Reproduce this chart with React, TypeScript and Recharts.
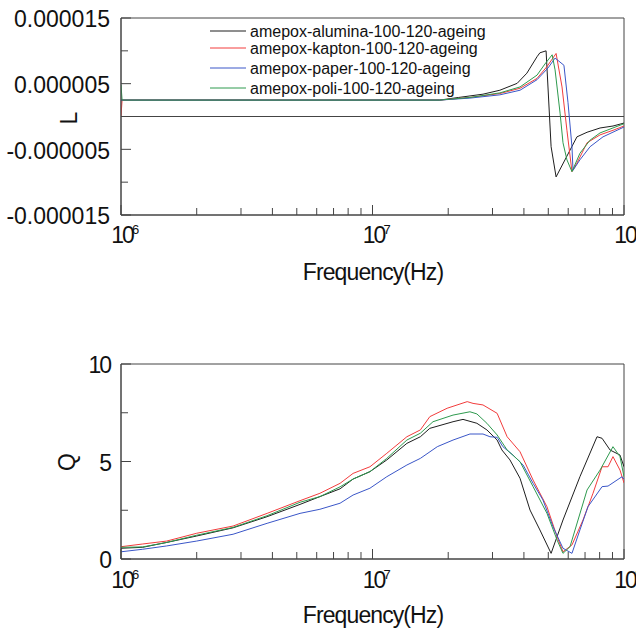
import React from 'react';
import { LineChart, Line, XAxis, YAxis, ReferenceLine, ReferenceArea, Legend } from 'recharts';

const FONT = '"Liberation Sans", Arial, Helvetica, sans-serif';
const AXIS = '#444444';

const seriesNames = [
  'amepox-alumina-100-120-ageing',
  'amepox-kapton-100-120-ageing',
  'amepox-paper-100-120-ageing',
  'amepox-poli-100-120-ageing',
];
const seriesColors = ['#1e1e1e', '#f23c3c', '#3a56c8', '#2e9a4e'];

// Frequency axis ticks (Hz)
const xTicks = [1e6, 2e6, 3e6, 4e6, 5e6, 6e6, 7e6, 8e6, 9e6, 1e7, 2e7, 3e7, 4e7, 5e7, 6e7, 7e7, 8e7, 9e7, 1e8];
const lTicks = [-1.5e-5, -1e-5, -5e-6, 0, 5e-6, 1e-5, 1.5e-5];
const lLabelTicks = [-1.5e-5, -5e-6, 5e-6, 1.5e-5];
const qTicks = [0, 2.5, 5, 7.5, 10];
const qLabelTicks = [0, 5, 10];

// ---- L (inductance) data, values in micro-henry units ----
const lAluminaFreq = [1e6, 1.85e7, 2.2e7, 2.75e7, 3.21e7, 3.76e7, 4.11e7, 4.51e7, 4.63e7, 4.9e7, 5.13e7, 5.37e7, 6.5e7, 7.13e7, 8.03e7, 9.04e7, 1e8];
const lAluminaVal = [2.5, 2.5, 2.9, 3.4, 4.0, 5.05, 6.6, 9.1, 9.7, 10.0, -4.6, -9.2, -3.1, -2.4, -1.75, -1.45, -1.0];

const lKaptonFreq = [1e6, 1.01e6, 1.85e7, 2.44e7, 3.21e7, 3.86e7, 4.51e7, 4.94e7, 5.37e7, 5.67e7, 5.93e7, 6.21e7, 6.5e7, 7.13e7, 8.03e7, 9.04e7, 1e8];
const lKaptonVal = [0.1, 2.5, 2.5, 2.9, 3.5, 4.3, 5.8, 7.6, 9.6, 4.5, -2.1, -8.4, -7.1, -4.0, -2.8, -2.1, -1.45];

const lPaperFreq = [1e6, 1.85e7, 2.44e7, 3.21e7, 3.86e7, 4.51e7, 4.99e7, 5.32e7, 5.77e7, 5.99e7, 6.21e7, 6.27e7, 6.68e7, 7.33e7, 8.25e7, 1e8];
const lPaperVal = [2.5, 2.5, 2.8, 3.3, 4.0, 5.6, 7.4, 8.9, 7.8, 2.1, -4.6, -8.2, -6.6, -4.6, -3.1, -1.6];

const lPoliFreq = [1e6, 1.01e6, 1.85e7, 2.44e7, 3.21e7, 3.86e7, 4.51e7, 4.85e7, 5.18e7, 5.32e7, 5.57e7, 5.72e7, 5.93e7, 6.21e7, 6.68e7, 7.33e7, 8.03e7, 1e8];
const lPoliVal = [4.8, 2.5, 2.5, 2.9, 3.6, 4.5, 6.3, 8.0, 9.4, 7.1, 0.5, -4.0, -6.6, -8.4, -5.6, -3.6, -2.5, -1.1];

// ---- Q (quality factor) data ----
const qAluminaFreq = [1e6, 1.22e6, 1.52e6, 2e6, 2.79e6, 3.81e6, 5.15e6, 6.18e6, 7.43e6, 8.37e6, 9.77e6, 1.14e7, 1.37e7, 1.55e7, 1.69e7, 2.09e7, 2.29e7, 2.6e7, 2.85e7, 3.13e7, 3.27e7, 3.52e7, 3.86e7, 4.23e7, 4.63e7, 5.13e7, 5.72e7, 6.68e7, 7.81e7, 8.18e7, 8.8e7, 9.64e7, 1e8];
const qAluminaVal = [0.55, 0.6, 0.85, 1.18, 1.6, 2.17, 2.8, 3.2, 3.6, 4.1, 4.48, 5.08, 5.93, 6.27, 6.7, 7.04, 7.16, 6.96, 6.62, 6.1, 5.59, 5.08, 4.14, 2.51, 1.49, 0.29, 2.0, 4.22, 6.27, 6.19, 5.59, 5.33, 4.73];

const qKaptonFreq = [1e6, 1.22e6, 1.52e6, 2e6, 2.79e6, 3.81e6, 5.15e6, 6.18e6, 7.43e6, 8.37e6, 9.77e6, 1.14e7, 1.37e7, 1.55e7, 1.69e7, 1.98e7, 2.38e7, 2.51e7, 2.75e7, 3.13e7, 3.43e7, 3.86e7, 4.35e7, 4.94e7, 5.42e7, 5.72e7, 6.21e7, 6.87e7, 7.53e7, 8.18e7, 8.64e7, 9.04e7, 9.64e7, 1e8];
const qKaptonVal = [0.63, 0.77, 0.92, 1.32, 1.69, 2.34, 2.99, 3.37, 3.88, 4.39, 4.73, 5.42, 6.27, 6.62, 7.3, 7.73, 8.07, 7.98, 7.9, 7.47, 6.27, 5.5, 4.05, 2.68, 1.14, 0.37, 0.72, 2.0, 3.37, 4.73, 4.73, 5.25, 4.56, 3.9];

const qPaperFreq = [1e6, 1.22e6, 1.52e6, 2e6, 2.79e6, 3.81e6, 5.15e6, 6.18e6, 7.43e6, 8.37e6, 9.77e6, 1.14e7, 1.37e7, 1.55e7, 1.81e7, 2.09e7, 2.44e7, 2.75e7, 2.93e7, 3.13e7, 3.3e7, 3.62e7, 3.97e7, 4.35e7, 4.76e7, 5.22e7, 5.72e7, 6.21e7, 6.68e7, 7.19e7, 8.18e7, 8.64e7, 9.82e7, 1e8];
const qPaperVal = [0.37, 0.5, 0.67, 0.92, 1.27, 1.83, 2.34, 2.55, 2.86, 3.28, 3.63, 4.22, 4.82, 5.16, 5.76, 6.1, 6.41, 6.41, 6.27, 6.24, 5.76, 5.33, 4.82, 3.88, 3.03, 1.66, 0.55, 0.29, 1.49, 2.68, 3.71, 3.74, 4.22, 4.09];

const qPoliFreq = [1e6, 1.22e6, 1.52e6, 2e6, 2.79e6, 3.81e6, 5.15e6, 6.18e6, 7.43e6, 8.37e6, 9.77e6, 1.14e7, 1.37e7, 1.55e7, 1.74e7, 2.09e7, 2.44e7, 2.6e7, 2.85e7, 3.13e7, 3.43e7, 3.86e7, 4.35e7, 4.94e7, 5.42e7, 5.72e7, 6.1e7, 7.13e7, 8.03e7, 9.04e7, 9.64e7, 1e8];
const qPoliVal = [0.6, 0.62, 0.85, 1.22, 1.62, 2.22, 2.91, 3.2, 3.7, 4.1, 4.48, 5.16, 6.1, 6.45, 7.04, 7.38, 7.55, 7.44, 6.96, 6.36, 5.59, 4.99, 3.71, 2.34, 0.97, 0.29, 0.63, 3.54, 4.56, 5.76, 5.25, 4.22];

const toRows = (freq: number[], vals: number[], scale: number) =>
  freq.map((f, i) => ({ f, v: vals[i] * scale }));

const lSeries = [
  toRows(lAluminaFreq, lAluminaVal, 1e-6),
  toRows(lKaptonFreq, lKaptonVal, 1e-6),
  toRows(lPaperFreq, lPaperVal, 1e-6),
  toRows(lPoliFreq, lPoliVal, 1e-6),
];
const qSeries = [
  toRows(qAluminaFreq, qAluminaVal, 1),
  toRows(qKaptonFreq, qKaptonVal, 1),
  toRows(qPaperFreq, qPaperVal, 1),
  toRows(qPoliFreq, qPoliVal, 1),
];

const near = (a: number, b: number, tol: number) => Math.abs(a - b) <= tol;

const makeXTick = (axisY: number, baseY: number) => (props: any) => {
  const { x, payload } = props;
  const v = payload.value;
  const exp = Math.round(Math.log10(v));
  const major = near(v, Math.pow(10, exp), 1);
  return (
    <g>
      <line x1={x} x2={x} y1={axisY} y2={axisY - (major ? 10 : 7)} stroke={AXIS} strokeWidth={1} />
      {major && (
        <g fontFamily={FONT} fill="#111">
          <text x={x + 1} y={baseY} textAnchor="middle" fontSize={23} letterSpacing={-2}>10</text>
          <text x={x + 11} y={baseY - 9} textAnchor="start" fontSize={13}>{exp}</text>
        </g>
      )}
    </g>
  );
};

const makeYTick = (axisX: number, labels: number[], fmt: (v: number) => string, tol: number, ls: number) => (props: any) => {
  const { y, payload } = props;
  const v = payload.value;
  const major = labels.some((l) => near(l, v, tol));
  return (
    <g>
      <line x1={axisX} x2={axisX + (major ? 10 : 7)} y1={y} y2={y} stroke={AXIS} strokeWidth={1} />
      {major && (
        <text x={axisX - 11} y={y + 1} dy="0.36em" textAnchor="end" fontFamily={FONT} fontSize={23} fill="#111" letterSpacing={ls}>
          {fmt(v)}
        </text>
      )}
    </g>
  );
};

const lFmt = (v: number) => v.toFixed(6);
const qFmt = (v: number) => String(v);

const renderLegend = () => (
  <svg width={320} height={80} style={{ display: 'block' }}>
    {seriesNames.map((name, i) => {
      const rowY = [11, 28, 48, 68][i];
      return (
        <g key={name}>
          <line x1={5} x2={41} y1={rowY} y2={rowY} stroke={seriesColors[i]} strokeWidth={1} />
          <text x={45} y={rowY} dy="0.36em" fontFamily={FONT} fontSize={16} fill="#111">{name}</text>
        </g>
      );
    })}
  </svg>
);

export default function App() {
  const W = 636;
  return (
    <div style={{ position: 'absolute', left: 0, top: 0, width: W, height: 629, background: '#fff', overflow: 'hidden' }}>
      {/* Top chart: L vs frequency. Plot area x 121-624, y 18-215 */}
      <div style={{ position: 'absolute', left: 0, top: 0 }}>
        <LineChart width={W} height={300} margin={{ top: 18, right: 12, left: 61, bottom: 55 }}>
          <XAxis
            dataKey="f"
            type="number"
            scale="log"
            domain={[1e6, 1e8]}
            allowDataOverflow
            ticks={xTicks}
            interval={0}
            tickLine={false}
            axisLine={{ stroke: AXIS }}
            tick={makeXTick(215, 243)}
            height={30}
          />
          <YAxis
            type="number"
            domain={[-1.5e-5, 1.5e-5]}
            allowDataOverflow
            ticks={lTicks}
            interval={0}
            tickLine={false}
            axisLine={{ stroke: AXIS }}
            tick={makeYTick(121, lLabelTicks, lFmt, 1e-8, 0)}
            width={60}
          />
          <ReferenceArea x1={1e6} x2={1e8} y1={-1.5e-5} y2={1.5e-5} fill="none" stroke={AXIS} strokeWidth={1} ifOverflow="visible" />
          <ReferenceLine y={0} stroke={AXIS} strokeWidth={1} />
          {lSeries.map((rows, i) => (
            <Line
              key={seriesNames[i]}
              data={rows}
              dataKey="v"
              name={seriesNames[i]}
              stroke={seriesColors[i]}
              strokeWidth={1}
              dot={false}
              activeDot={false}
              type="linear"
              isAnimationActive={false}
            />
          ))}
          <Legend
            layout="horizontal"
            verticalAlign="middle"
            align="center"
            content={renderLegend}
            wrapperStyle={{ position: 'absolute', left: 205, top: 20, width: 320, height: 80 }}
          />
        </LineChart>
      </div>

      {/* Bottom chart: Q vs frequency. Plot area x 121-624, y 364-559 */}
      <div style={{ position: 'absolute', left: 0, top: 300 }}>
        <LineChart width={W} height={329} margin={{ top: 64, right: 12, left: 61, bottom: 40 }}>
          <XAxis
            dataKey="f"
            type="number"
            scale="log"
            domain={[1e6, 1e8]}
            allowDataOverflow
            ticks={xTicks}
            interval={0}
            tickLine={false}
            axisLine={{ stroke: AXIS }}
            tick={makeXTick(259, 288)}
            height={30}
          />
          <YAxis
            type="number"
            domain={[0, 10]}
            allowDataOverflow
            ticks={qTicks}
            interval={0}
            tickLine={false}
            axisLine={{ stroke: AXIS }}
            tick={makeYTick(121, qLabelTicks, qFmt, 1e-6, -2)}
            width={60}
          />
          <ReferenceArea x1={1e6} x2={1e8} y1={0} y2={10} fill="none" stroke={AXIS} strokeWidth={1} ifOverflow="visible" />
          {qSeries.map((rows, i) => (
            <Line
              key={seriesNames[i]}
              data={rows}
              dataKey="v"
              name={seriesNames[i]}
              stroke={seriesColors[i]}
              strokeWidth={1}
              dot={false}
              activeDot={false}
              type="linear"
              isAnimationActive={false}
            />
          ))}
        </LineChart>
      </div>

      {/* Axis titles */}
      <svg width={W} height={629} style={{ position: 'absolute', left: 0, top: 0, pointerEvents: 'none' }}>
        <g fontFamily={FONT} fontSize={23} fill="#111">
          <text x={373} y={280} textAnchor="middle" letterSpacing={-0.9}>Frequency(Hz)</text>
          <text x={373} y={623} textAnchor="middle" letterSpacing={-0.9}>Frequency(Hz)</text>
          <text x={0} y={0} dy="0.36em" textAnchor="middle" transform="translate(69,118) rotate(-90)">L</text>
          <text x={0} y={0} dy="0.36em" textAnchor="middle" transform="translate(67,462) rotate(-90)">Q</text>
        </g>
      </svg>
    </div>
  );
}
